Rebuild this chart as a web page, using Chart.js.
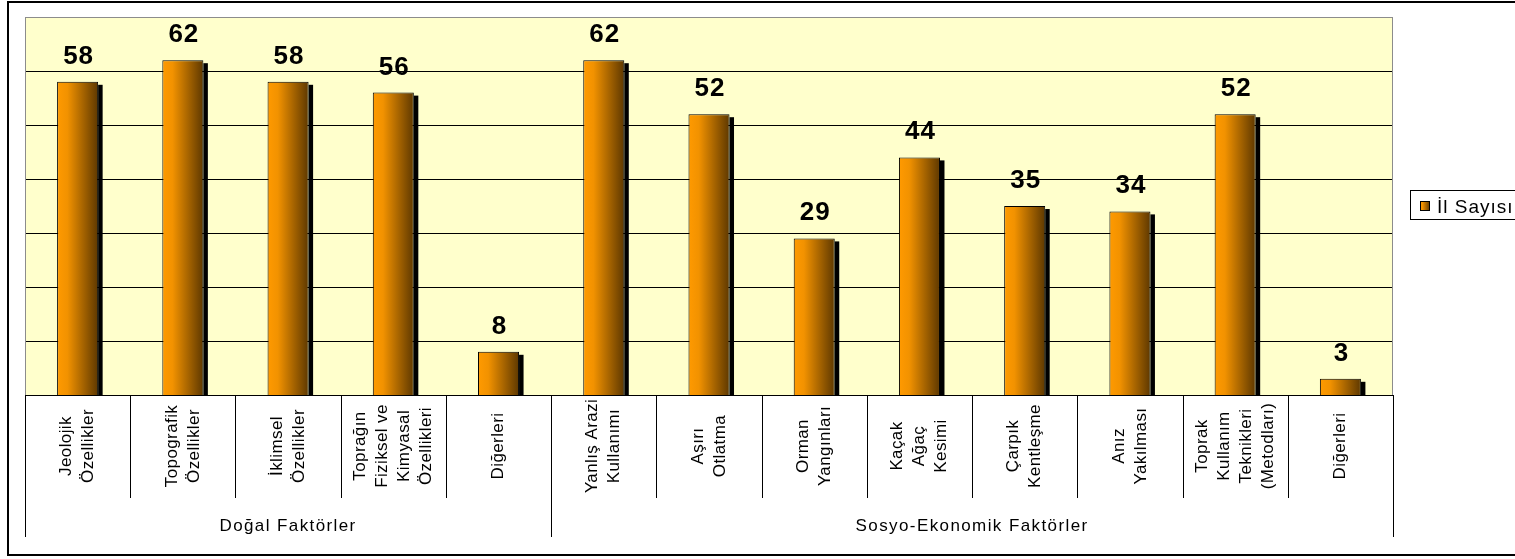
<!DOCTYPE html>
<html><head><meta charset="utf-8">
<script src="https://cdn.jsdelivr.net/npm/chart.js@4.4.1/dist/chart.umd.min.js"></script>
<style>html,body{margin:0;padding:0;background:#fff;overflow:hidden}#wrap{width:1515px;height:559px}</style>
</head><body><div id="wrap"><canvas id="c" width="1515" height="559"></canvas></div>
<script>
const categories = [
  ["Jeolojik", "Özellikler"],
  ["Topografik", "Özellikler"],
  ["İklimsel", "Özellikler"],
  ["Toprağın", "Fiziksel ve", "Kimyasal", "Özellikleri"],
  ["Diğerleri"],
  ["Yanlış Arazi", "Kullanımı"],
  ["Aşırı", "Otlatma"],
  ["Orman", "Yangınları"],
  ["Kaçak", "Ağaç", "Kesimi"],
  ["Çarpık", "Kentleşme"],
  ["Anız", "Yakılması"],
  ["Toprak", "Kullanım", "Teknikleri", "(Metodları)"],
  ["Diğerleri"]
];
const groupNames = ["Doğal Faktörler", "Sosyo-Ekonomik Faktörler"];
const groupSizes = [5, 8];
const values = [58, 62, 58, 56, 8, 62, 52, 29, 44, 35, 34, 52, 3];
const seriesName = "İl Sayısı";
const yMin = 0, yMax = 70, yStep = 10;

const FONT = '"Liberation Sans", Arial, sans-serif';
const BAR_PCT = 0.39;

function barGradient(c, x0, x1) {
  const g = c.createLinearGradient(x0, 0, x1, 0);
  g.addColorStop(0, '#FF9A00');
  g.addColorStop(0.25, '#F29200');
  g.addColorStop(1, '#5E3800');
  return g;
}

const framePlugin = {
  id: 'frame',
  beforeDraw(chart) {
    const c = chart.ctx, a = chart.chartArea, ys = chart.scales.y;
    c.save();
    c.fillStyle = '#fff';
    c.fillRect(0, 0, chart.width, chart.height);
    c.strokeStyle = '#000'; c.lineWidth = 2;
    c.strokeRect(8, 2, chart.width + 10, 553);
    c.fillStyle = '#FFFFCC';
    c.fillRect(a.left, a.top, a.right - a.left, a.bottom - a.top);
    c.strokeStyle = '#000'; c.lineWidth = 1;
    for (let v = yMin + yStep; v < yMax; v += yStep) {
      const y = Math.round(ys.getPixelForValue(v)) + 0.5;
      c.beginPath(); c.moveTo(a.left, y); c.lineTo(a.right, y); c.stroke();
    }
    c.strokeStyle = '#8c8c8c';
    c.strokeRect(a.left + 0.5, a.top + 0.5, a.right - a.left - 1, a.bottom - a.top);
    c.restore();
  },
  beforeDatasetsDraw(chart) {
    const c = chart.ctx;
    const meta = chart.getDatasetMeta(0);
    c.save();
    c.fillStyle = '#000';
    meta.data.forEach(el => {
      const p = el.getProps(['x', 'y', 'base', 'width'], true);
      c.fillRect(p.x + p.width / 2, p.y + 3, 4.5, p.base - p.y - 3);
    });
    c.restore();
  },
  afterDatasetsDraw(chart) {
    const c = chart.ctx;
    const meta = chart.getDatasetMeta(0);
    c.save();
    c.fillStyle = '#000';
    c.font = 'bold 26px ' + FONT;
    c.letterSpacing = '1px';
    c.textAlign = 'center';
    c.textBaseline = 'alphabetic';
    meta.data.forEach((el, i) => {
      const p = el.getProps(['x', 'y'], true);
      c.fillText(String(values[i]), p.x + 1, p.y - 18);
    });
    c.restore();
  },
  afterDraw(chart) {
    const c = chart.ctx, a = chart.chartArea, xs = chart.scales.x;
    const n = categories.length;
    const cw = (a.right - a.left) / n;
    c.save();
    c.strokeStyle = '#000'; c.lineWidth = 1;
    c.beginPath(); c.moveTo(a.left, a.bottom + 0.5); c.lineTo(a.right, a.bottom + 0.5); c.stroke();
    const groupEdges = [0];
    groupSizes.reduce((s, g) => { groupEdges.push(s + g); return s + g; }, 0);
    for (let i = 0; i <= n; i++) {
      const x = Math.round(a.left + i * cw) + 0.5;
      const isGroup = groupEdges.includes(i);
      c.beginPath(); c.moveTo(x, a.bottom); c.lineTo(x, isGroup ? 537 : 498); c.stroke();
    }
    c.fillStyle = '#000';
    c.font = '17px ' + FONT;
    c.letterSpacing = '0.4px';
    c.textAlign = 'center';
    c.textBaseline = 'middle';
    const lh = 22;
    categories.forEach((lines, i) => {
      const cx = xs.getPixelForValue(i);
      lines.forEach((ln, j) => {
        const off = (j - (lines.length - 1) / 2) * lh;
        c.save();
        c.translate(cx + off, 446);
        c.rotate(-Math.PI / 2);
        c.fillText(ln, 0, 0);
        c.restore();
      });
    });
    c.font = '17px ' + FONT;
    c.letterSpacing = '1.4px';
    c.textBaseline = 'alphabetic';
    groupNames.forEach((g, k) => {
      const x0 = a.left + groupEdges[k] * cw, x1 = a.left + groupEdges[k + 1] * cw;
      c.fillText(g, (x0 + x1) / 2, 531);
    });
    c.letterSpacing = '0px';
    c.strokeStyle = '#000'; c.lineWidth = 1;
    c.strokeRect(1410.5, 190.5, 120, 29);
    c.fillStyle = barGradient(c, 1420, 1430);
    c.fillRect(1420, 201, 10, 10);
    c.strokeRect(1420.5, 201.5, 9, 9);
    c.fillStyle = '#000';
    c.font = '19px ' + FONT;
    c.letterSpacing = '1px';
    c.textAlign = 'left';
    c.fillText(chart.data.datasets[0].label, 1437, 213);
    c.restore();
  }
};

new Chart(document.getElementById('c'), {
  type: 'bar',
  data: {
    labels: categories.map(l => l.join(' ')),
    datasets: [{
      label: seriesName,
      data: values,
      backgroundColor: (ctx) => {
        const ch = ctx.chart;
        if (!ch.chartArea) return '#FF9900';
        const xs = ch.scales.x;
        const cx = xs.getPixelForValue(ctx.dataIndex);
        const w = (xs.width / categories.length) * BAR_PCT;
        return barGradient(ch.ctx, cx - w / 2, cx + w / 2);
      },
      borderColor: '#000',
      borderWidth: 1,
      categoryPercentage: 1,
      barPercentage: BAR_PCT
    }]
  },
  options: {
    responsive: false,
    animation: false,
    events: [],
    layout: { padding: { left: 25, top: 17, right: 122, bottom: 164 } },
    scales: {
      x: { display: false },
      y: { display: false, min: yMin, max: yMax, ticks: { stepSize: yStep } }
    },
    plugins: { legend: { display: false }, tooltip: { enabled: false } }
  },
  plugins: [framePlugin]
});
</script>
</body></html>
